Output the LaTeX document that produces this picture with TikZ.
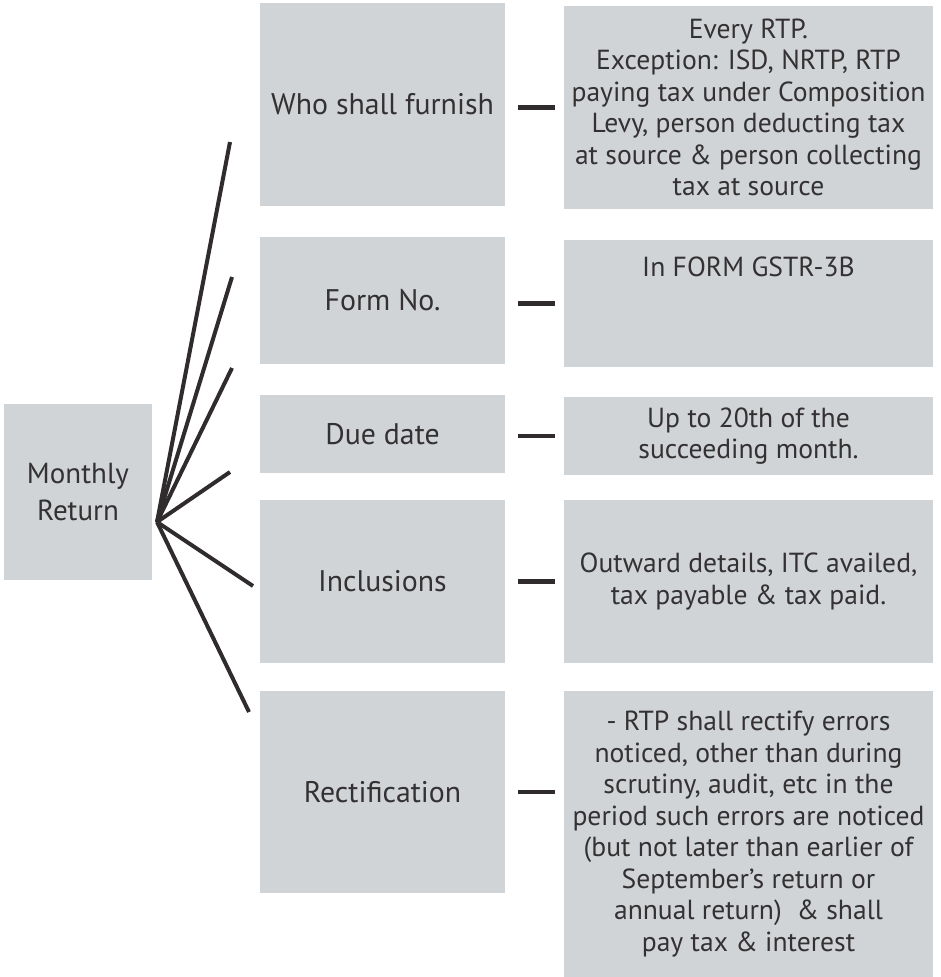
\documentclass[tikz,border=0pt]{standalone}
\usepackage{fontspec}
\setmainfont{PT Sans}
\usetikzlibrary{calc}
\definecolor{boxgray}{RGB}{209,212,215}
\definecolor{ink}{RGB}{48,44,45}
\definecolor{textgray}{RGB}{52,49,50}
\begin{document}
\begin{tikzpicture}[x=1pt,y=-1pt,
  panel/.style={fill=boxgray, draw=none, inner sep=0pt, align=center, text=textgray},
  topic/.style={panel, minimum width=245pt, font=\fontsize{29.8}{35}\selectfont},
  detailfont/.style={font=\fontsize{27.6}{31.5}\selectfont},
  detail/.style={panel, minimum width=369pt, detailfont},
  spoke/.style={draw=ink, line width=4pt},
  tie/.style={draw=ink, line width=4.5pt, shorten <=13pt, shorten >=9pt}]

\useasboundingbox (0,0) rectangle (940,977);

% root
\node[panel, minimum width=148pt, minimum height=176pt,
      font=\fontsize{29}{37}\selectfont] (mr) at (78,492) {Monthly\\Return};

% topics
\node[topic, minimum height=203pt] (m1) at (382.5,104.5) {Who shall furnish};
\node[topic, minimum height=127pt] (m2) at (382.5,300.5) {Form No.};
\node[topic, minimum height=78pt]  (m3) at (382.5,434)   {Due date};
\node[topic, minimum height=163pt] (m4) at (382.5,581.5) {Inclusions};
\node[topic, minimum height=202pt] (m5) at (382.5,792)   {Rectification};

% details
\node[detail, minimum height=203pt] (r1) at (748.5,107.5)
  {Every RTP.\\Exception: ISD, NRTP, RTP\\paying tax under Composition\\Levy, person deducting tax\\at source \& person collecting\\tax at source};
\node[detail, minimum height=127pt,
      label={[detailfont, text=textgray, anchor=north, yshift=-14pt]north:In FORM GSTR-3B}]
  (r2) at (748.5,303.5) {};
\node[detail, minimum height=78pt] (r3) at (748.5,436)
  {Up to 20th of the\\succeeding month.};
\node[detail, minimum height=163pt] (r4) at (748.5,581.5)
  {Outward details, ITC availed,\\tax payable \& tax paid.};
\node[detail, minimum height=286pt] (r5) at (748.5,834)
  {- RTP shall rectify errors\\noticed, other than during\\scrutiny, audit, etc in the\\period such errors are noticed\\(but not later than earlier of\\September’s return or\\annual return)~~\& shall\\pay tax \& interest};

% fan of spokes from the root
\coordinate (hub) at (157,522);
\coordinate (s1) at (230,142);
\coordinate (s2) at (232,277);
\coordinate (s3) at (232,368);
\coordinate (s4) at (230,472);
\coordinate (s5) at (253,586);
\coordinate (s6) at (249,712);
\foreach \e in {s1,s2,s3,s4,s5,s6}
  \draw[spoke] (hub) -- (\e);

% ties between topics and details
\draw[tie] (m1.east |- r1.west) -- (r1.west);
\draw[tie] (m2.east |- r2.west) -- (r2.west);
\draw[tie] (m3.east |- r3.west) -- (r3.west);
\draw[tie] (m4.east |- r4.west) -- (r4.west);
\draw[tie] (m5.east) -- (m5.east -| r5.west);
\end{tikzpicture}
\end{document}
